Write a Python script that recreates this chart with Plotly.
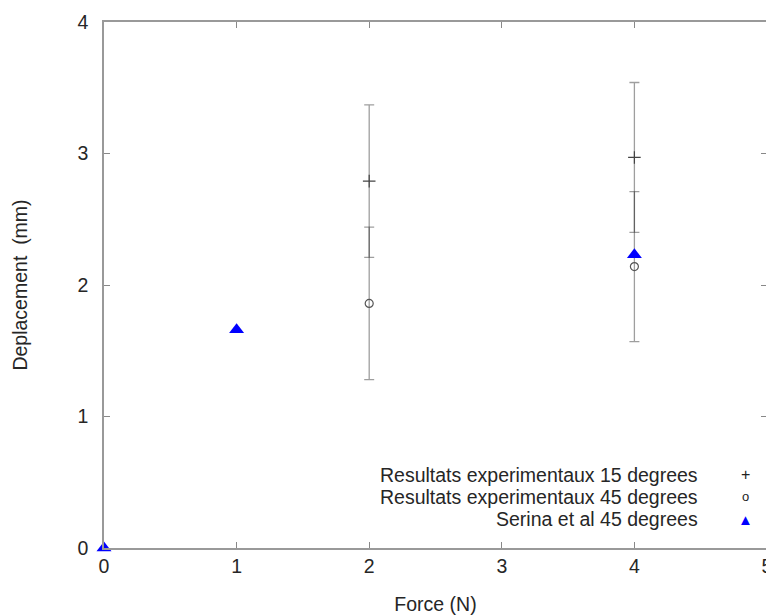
import plotly.graph_objects as go

# Force (N)
force_15 = [2, 4]
depl_15 = [2.79, 2.97]
err_15 = [0.58, 0.57]

force_45 = [2, 4]
depl_45 = [1.86, 2.14]
err_45 = [0.58, 0.57]

force_serina = [0, 1, 4]
depl_serina = [0.0, 1.66, 2.23]

legend_labels = [
    "Resultats experimentaux 15 degrees",
    "Resultats experimentaux 45 degrees",
    "Serina et al 45 degrees",
]

FONT = "Liberation Sans, Arial, sans-serif"
TXT = "#262626"
err_color = "rgba(0,0,0,0.38)"

fig = go.Figure()

fig.add_trace(go.Scatter(
    x=force_15, y=depl_15, mode="markers", name=legend_labels[0],
    marker=dict(symbol="cross-thin", size=9, line=dict(width=1.2, color="#444")),
    error_y=dict(type="data", array=err_15, visible=True, color=err_color, thickness=1.3, width=5),
))

fig.add_trace(go.Scatter(
    x=force_45, y=depl_45, mode="markers", name=legend_labels[1],
    marker=dict(symbol="circle-open", size=8, color="#555", line=dict(width=1.2)),
    error_y=dict(type="data", array=err_45, visible=True, color=err_color, thickness=1.3, width=5),
))

fig.add_trace(go.Scatter(
    x=force_serina, y=depl_serina, mode="markers", name=legend_labels[2],
    marker=dict(symbol="triangle-up", size=13, color="blue"),
    cliponaxis=False,
))

# gnuplot style key: text right aligned, symbol on the right
key_y = [0.139, 0.097, 0.055]
key_sym = ["+", "o", "▲"]
key_col = ["#222", "#222", "blue"]
key_size = [16, 13, 15]
for lab, yy, sym, col, sz in zip(legend_labels, key_y, key_sym, key_col, key_size):
    fig.add_annotation(x=0.899, y=yy, xref="paper", yref="paper", text=lab,
                       showarrow=False, xanchor="right", yanchor="middle",
                       font=dict(family=FONT, size=19.5, color=TXT))
    fig.add_annotation(x=0.967, y=yy, xref="paper", yref="paper", text=sym,
                       showarrow=False, xanchor="center", yanchor="middle",
                       font=dict(family=FONT, size=sz, color=col))

axis_common = dict(
    showgrid=False, zeroline=False, showline=True, mirror="ticks",
    linecolor="#999", linewidth=1.5, ticks="inside", ticklen=6, tickcolor="#888",
    tickfont=dict(family=FONT, size=19.5, color=TXT), automargin=False,
    ticklabeloverflow="allow",
)

fig.update_xaxes(range=[0, 5], dtick=1, title=dict(text="Force (N)", standoff=22,
                 font=dict(family=FONT, size=19.5, color=TXT)), **axis_common)
fig.update_yaxes(range=[0, 4], dtick=1, ticklabelstandoff=10, title=dict(text="Deplacement  (mm)", standoff=45,
                 font=dict(family=FONT, size=19.5, color=TXT)), **axis_common)

# page body adds an 8px offset; keep extra room on the right for the last tick label
fig.update_layout(
    width=774, height=607,
    margin=dict(l=96, r=15, t=14, b=67),
    paper_bgcolor="white", plot_bgcolor="white",
    showlegend=False,
    font=dict(family=FONT),
)

fig.write_html("out.html")
